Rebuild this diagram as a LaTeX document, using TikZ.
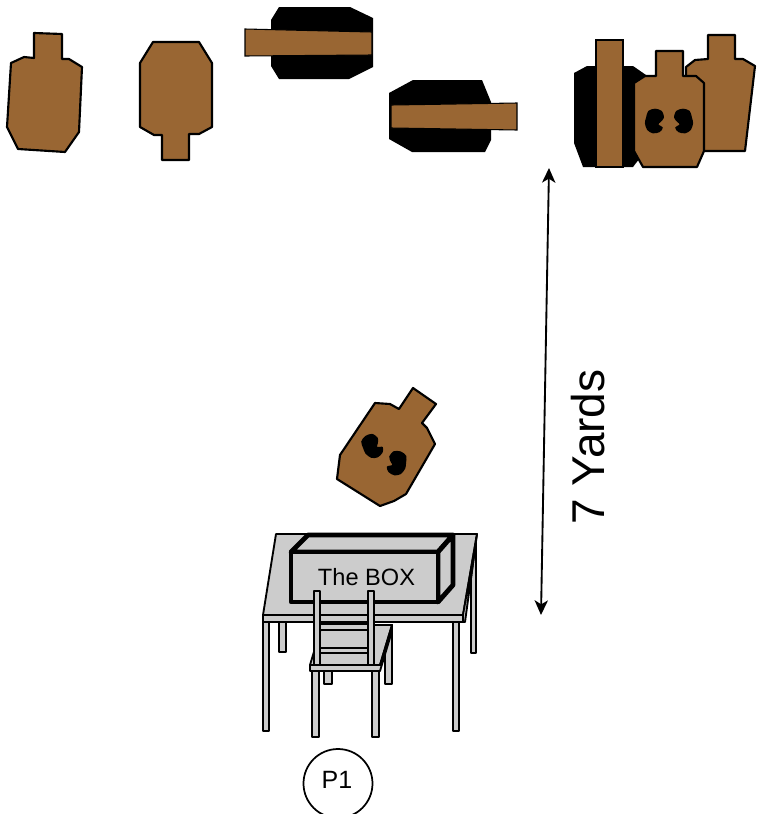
\documentclass[tikz,border=0pt]{standalone}
\usepackage{fontspec}
\setmainfont{Liberation Sans}
\usetikzlibrary{arrows.meta}
\definecolor{targetbrown}{RGB}{153,102,51}
\definecolor{tablegray}{RGB}{204,204,204}
\begin{document}
\begin{tikzpicture}[x=0.75pt,y=-0.75pt,
  target/.style={fill=targetbrown,draw=black,line width=1.6pt,line join=round},
  blackpart/.style={fill=black},
  strip/.style={fill=targetbrown,draw=black,line width=0.8pt},
  furniture/.style={fill=tablegray,draw=black,line width=1.4pt,line join=round},
  boxline/.style={fill=tablegray,draw=black,line width=3.6pt,line join=round},
  holefill/.style={fill=black},
  yardarrow/.style={draw=black,line width=1.4pt,
    {Stealth[length=11pt,width=10pt,inset=3pt]}-{Stealth[length=11pt,width=10pt,inset=3pt]}}]
\useasboundingbox (0,0) rectangle (757,814);

% bullet hole shape, notch on the right
\newcommand{\bullethole}[4]{%
  \begin{scope}[shift={(#1,#2)},rotate=#4,xscale=#3,scale=1.12]
    \fill[holefill] plot[smooth cycle] coordinates
      {(-8,-3) (-6,-9) (0,-11) (6,-9) (8,-3) (5,1) (3,3) (7,6) (4,10) (-2,11) (-7,8) (-9,2)};
  \end{scope}}

% ---- far targets ----
% upright target
\draw[target] (34,33) -- (62,34) -- (62,59) -- (69,59) -- (82,67) -- (79,132) -- (65,152)
  -- (18,149) -- (7,127) -- (11,63) -- (24,57) -- (34,58) -- cycle;
% inverted target
\draw[target] (153,42) -- (199,42) -- (212,63) -- (212,127) -- (199,134) -- (189,134)
  -- (189,160) -- (162,160) -- (162,135) -- (154,135) -- (140,127) -- (140,63) -- cycle;
% sideways no-shoot target, head left
\fill[blackpart] (279,7) -- (350,7) -- (373,18) -- (373,67) -- (349,79) -- (279,79)
  -- (271,66) -- (271,20) -- cycle;
\draw[strip] (245,29) -- (372,32) -- (372,55) -- (245,56) -- cycle;
% sideways no-shoot target, head right
\fill[blackpart] (389,93) -- (413,80) -- (482,80) -- (491,102) -- (491,140) -- (485,152)
  -- (412,152) -- (389,139) -- cycle;
\draw[strip] (391,105) -- (517,103) -- (517,130) -- (391,128) -- cycle;

% ---- right-hand cluster ----
\fill[blackpart] (574,73) -- (587,66) -- (633,66) -- (646,75) -- (646,150) -- (633,167)
  -- (583,167) -- (574,143) -- cycle;
\draw[strip] (596,40) -- (623,40) -- (623,167) -- (596,167) -- cycle;
\draw[target] (708,35) -- (735,35) -- (735,59) -- (743,59) -- (755,66) -- (745,151)
  -- (696,151) -- (686,140) -- (686,67) -- (695,60) -- (708,59) -- cycle;
\draw[target] (656,51) -- (683,51) -- (683,76) -- (696,76) -- (704,83) -- (704,151)
  -- (697,167) -- (643,167) -- (634,151) -- (634,83) -- (645,76) -- (656,76) -- cycle;
\bullethole{655}{121}{1}{0}
\bullethole{683}{121}{-1}{0}

% ---- near target, turned ----
\draw[target] (413,388) -- (436,404) -- (422,423) -- (427,428) -- (435,444) -- (406,494)
  -- (394,501) -- (380,506) -- (337,479) -- (340,455) -- (375,403) -- (390,404)
  -- (399,409) -- cycle;
\bullethole{372.5}{446}{1}{35}
\bullethole{396.5}{463}{-1}{-20}

% ---- distance marker ----
\coordinate (ytop) at (549,168);
\coordinate (ybot) at (541,615);
\draw[yardarrow] (ytop) -- (ybot);
\node[rotate=90,font=\fontsize{34.5pt}{40pt}\selectfont] (yards) at (588,447) {7 Yards};

% ---- table ----
\draw[furniture] (263,622) rectangle (269,731);
\draw[furniture] (279,622) rectangle (286,652);
\draw[furniture] (453,622) rectangle (459,731);
\draw[furniture] (476,541) -- (476,653) -- (471,653) -- (471,578) -- cycle;
\draw[furniture] (276,534) -- (477,534) -- (463,615) -- (263,615) -- cycle;
\draw[furniture] (463,615) -- (477,534) -- (465,622) -- (463,622) -- cycle;
\draw[furniture] (263,615) rectangle (463,622);

% ---- the box ----
\draw[boxline] (291,552) -- (308,535) -- (453,535) -- (438,552) -- cycle;
\draw[boxline] (438,552) -- (453,535) -- (453,585) -- (438,602) -- cycle;
\draw[boxline] (291,552) rectangle (438,602);
\node[font=\fontsize{17.7pt}{20pt}\selectfont] (boxlabel) at (366.5,577) {The BOX};

% ---- chair ----
\draw[furniture] (324,671) rectangle (332,684);
\draw[furniture] (385,625) rectangle (392,684);
\draw[furniture] (310,665) -- (380,665) -- (392,625) -- (322,625) -- cycle;
\draw[furniture] (312,671) rectangle (319,737);
\draw[furniture] (372,671) rectangle (379,737);
\draw[furniture] (310,665) -- (380,665) -- (392,625) -- (392,631) -- (380,671) -- (310,671) -- cycle;
\draw[furniture] (314,624) rectangle (374,630);
\draw[furniture] (314,648) rectangle (374,653);
\draw[furniture] (314,591) rectangle (320,665);
\draw[furniture] (368,591) rectangle (374,665);

% ---- shooter position ----
\node[circle,draw=black,line width=1.3pt,minimum size=51.75pt,inner sep=0pt] (p1) at (338,783.5) {};
\node[font=\fontsize{18.75pt}{21pt}\selectfont] (p1label) at (337,780) {P1};
\end{tikzpicture}
\end{document}
